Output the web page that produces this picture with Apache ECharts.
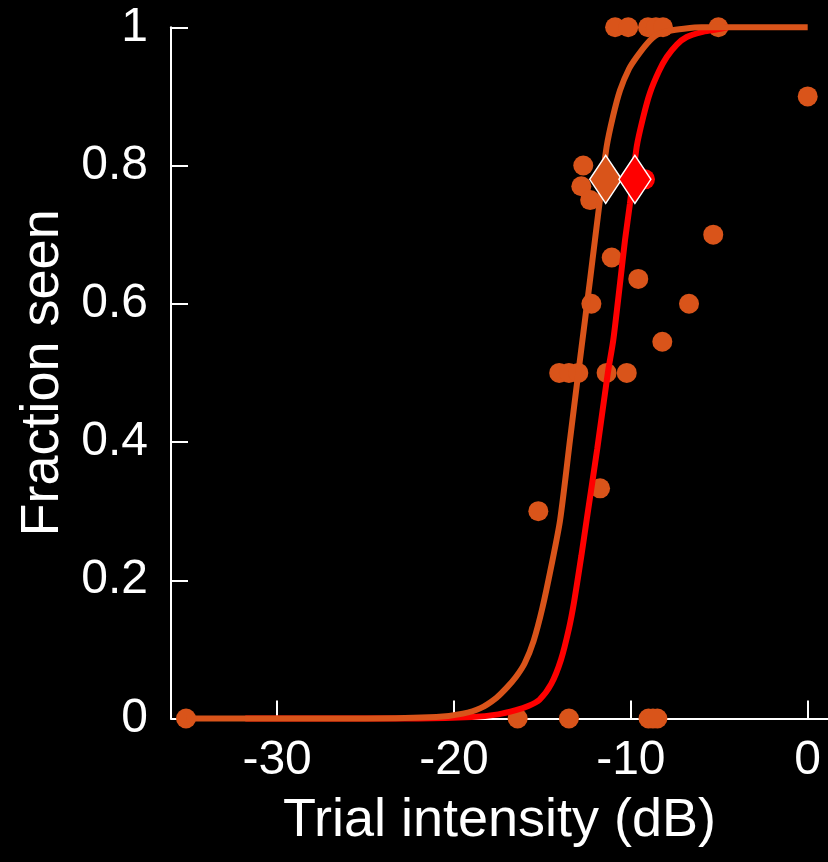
<!DOCTYPE html>
<html>
<head>
<meta charset="utf-8">
<script src="https://cdn.jsdelivr.net/npm/echarts@6/dist/echarts.min.js"></script>
<style>
html,body{margin:0;padding:0;background:#000;}
#chart{width:828px;height:862px;}
</style>
</head>
<body>
<div id="chart"></div>
<script>
// ---- Data ----
const xTicks = [-30, -20, -10, 0];
const yTicks = [0, 0.2, 0.4, 0.6, 0.8, 1];

// observed fraction seen (orange points)
const obsIntensity = [-35.15, -16.4, -13.5, -9.0, -8.75, -8.5,
  -10.89, -10.15, -9.03, -8.58, -8.18, -5.05,
  0, -5.34, -6.71, -8.22, -9.58, -11.08, -12.23, -12.69, -12.8, -12.3,
  -14.05, -13.5, -12.97, -11.37, -10.23, -11.74, -15.23];
const obsFraction = [0, 0, 0, 0, 0, 0,
  1, 1, 1, 1, 1, 1,
  0.9, 0.7, 0.6, 0.545, 0.636, 0.667, 0.6, 0.8, 0.77, 0.75,
  0.5, 0.5, 0.5, 0.5, 0.5, 0.333, 0.3];

// fitted curve (orange)
const fitOrangeX = [-35.15, -25, -21, -19.5, -18.5, -17.6, -17.0, -16.5, -16.0, -15.5, -15.0, -14.5, -14.0, -13.44, -12.97, -12.6, -12.31, -12.03, -11.7, -11.37, -11.0, -10.61, -10.1, -9.67, -9.1, -8.54, -7.8, -7.0, -6.0, 0];
const fitOrangeY = [0, 0, 0.002, 0.007, 0.015, 0.03, 0.045, 0.06, 0.08, 0.112, 0.16, 0.22, 0.287, 0.403, 0.5, 0.575, 0.634, 0.692, 0.76, 0.827, 0.872, 0.909, 0.94, 0.957, 0.976, 0.989, 0.995, 0.998, 1, 1];

// fitted curve (red)
const fitRedX = [-31.8, -22, -19, -17.5, -16.5, -15.8, -15.17, -14.5, -13.95, -13.5, -13.2, -12.8, -12.5, -11.9, -11.3, -10.99, -10.61, -10.33, -10.05, -9.67, -9.3, -8.92, -8.4, -7.97, -7.4, -6.84, -6.0, -5.34, -4.5];
const fitRedY = [0, 0, 0.002, 0.006, 0.012, 0.018, 0.027, 0.05, 0.085, 0.13, 0.17, 0.235, 0.287, 0.39, 0.5, 0.548, 0.63, 0.692, 0.745, 0.827, 0.87, 0.905, 0.937, 0.957, 0.975, 0.986, 0.993, 0.996, 1];

// red marker point and threshold diamonds
const redPointX = [-9.2];
const redPointY = [0.78];
const thrOrange = [-11.42, 0.78];
const thrRed = [-9.77, 0.78];

const ORANGE = '#D9541A';
const RED = '#FF0000';
const FONT = 'Liberation Sans, Arial, sans-serif';

const zip = (a, b) => a.map((v, i) => [v, b[i]]);

const chart = echarts.init(document.getElementById('chart'), null, {renderer: 'canvas'});
chart.setOption({
  backgroundColor: '#000',
  animation: false,
  grid: {left: 171, right: 0, top: 27.3, bottom: 143.5, containLabel: false, outerBoundsMode: 'none'},
  xAxis: {
    type: 'value', min: -36, max: 1.148,
    name: 'Trial intensity (dB)', nameLocation: 'middle', nameGap: 76,
    nameTextStyle: {color: '#fff', fontSize: 54, fontFamily: FONT},
    axisLine: {show: true, onZero: false, lineStyle: {color: '#fff', width: 2}},
    axisTick: {show: true, inside: true, length: 18, customValues: xTicks, lineStyle: {color: '#fff', width: 2}},
    axisLabel: {show: true, customValues: xTicks, color: '#fff', fontSize: 48, fontFamily: FONT, margin: 18},
    splitLine: {show: false}
  },
  yAxis: {
    type: 'value', min: 0, max: 1, interval: 0.2,
    name: 'Fraction seen', nameLocation: 'middle', nameGap: 100,
    nameTextStyle: {color: '#fff', fontSize: 54, fontFamily: FONT},
    axisLine: {show: true, onZero: false, lineStyle: {color: '#fff', width: 2}},
    axisTick: {show: true, inside: true, length: 17, lineStyle: {color: '#fff', width: 2}},
    axisLabel: {show: true, color: '#fff', fontSize: 48, fontFamily: FONT, margin: 23},
    splitLine: {show: false}
  },
  series: [
    {
      type: 'scatter', z: 1, data: zip(obsIntensity, obsFraction),
      symbol: 'circle', symbolSize: 20, itemStyle: {color: ORANGE, opacity: 1}, clip: false
    },
    {
      type: 'line', z: 2, data: zip(fitRedX, fitRedY), showSymbol: false,
      smooth: 0.25, lineStyle: {color: RED, width: 6}, clip: false
    },
    {
      type: 'line', z: 3, data: zip(fitOrangeX, fitOrangeY), showSymbol: false,
      smooth: 0.25, lineStyle: {color: ORANGE, width: 6}, clip: false
    },
    {
      type: 'scatter', z: 4, data: zip(redPointX, redPointY),
      symbol: 'circle', symbolSize: 20, itemStyle: {color: RED, opacity: 1}
    },
    {
      type: 'scatter', z: 5, data: [thrOrange, thrRed],
      symbol: 'diamond', symbolSize: [32, 48],
      itemStyle: {
        color: function (p) { return p.dataIndex === 0 ? ORANGE : RED; },
        borderColor: '#fff', borderWidth: 1.5, opacity: 1
      }
    }
  ]
});
</script>
</body>
</html>
